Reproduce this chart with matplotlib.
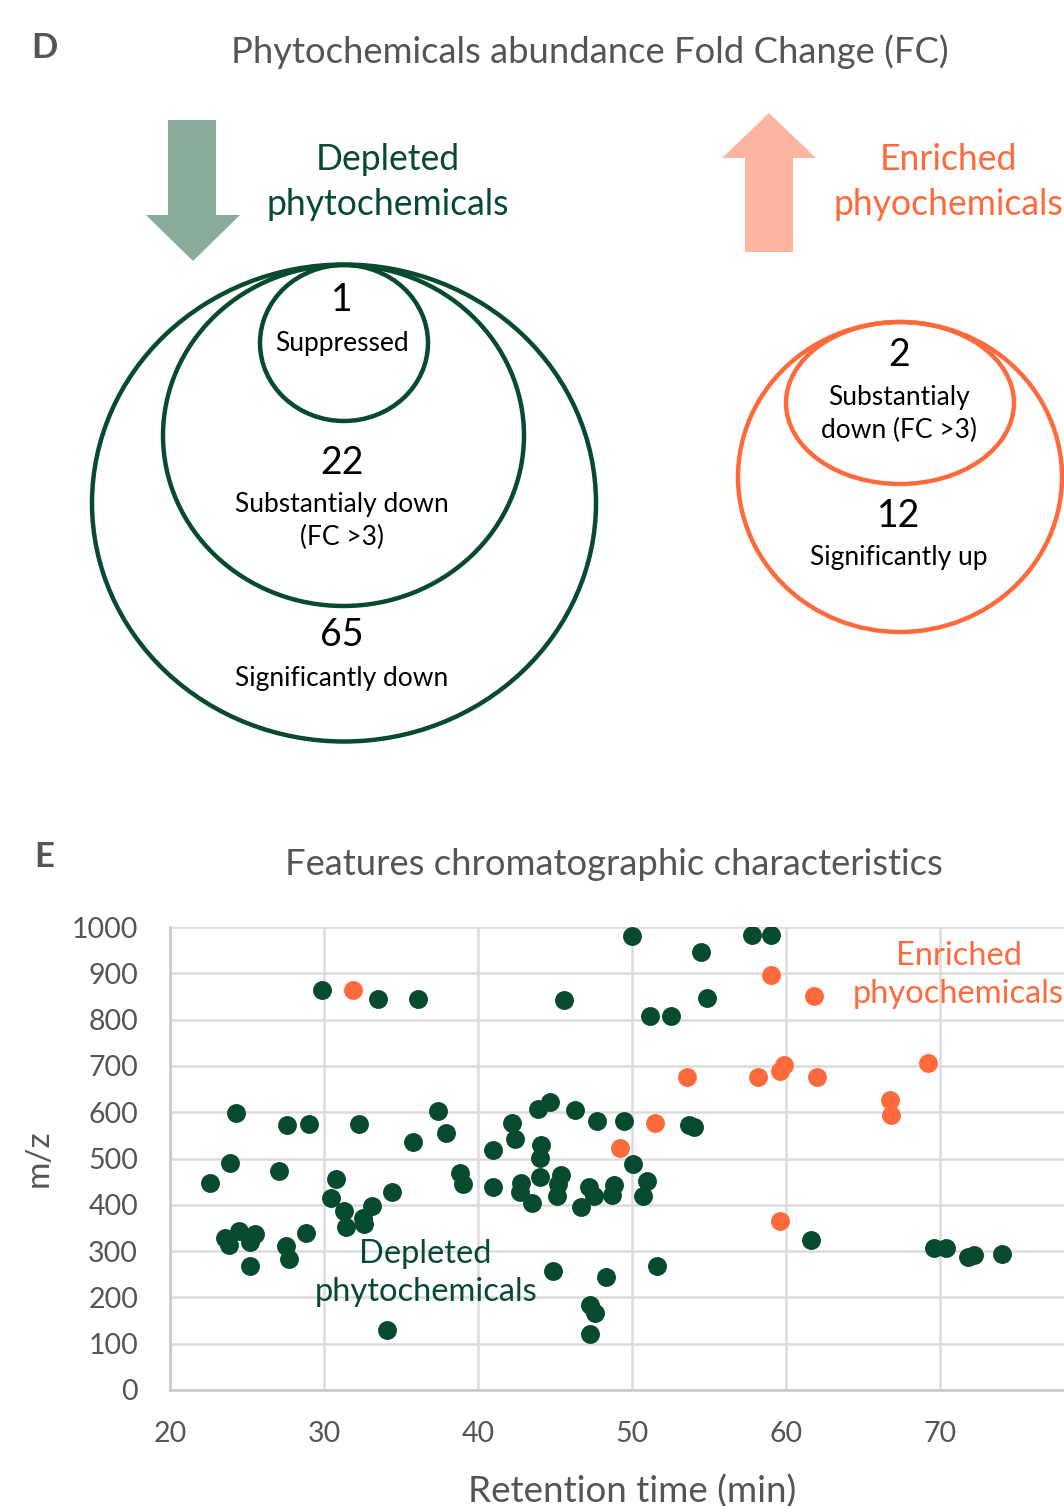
import matplotlib
matplotlib.use("Agg")
import matplotlib.pyplot as plt
from matplotlib.patches import Ellipse, Polygon

# ---------------- data ----------------
depleted_rt = [29.9, 33.5, 36.1, 24.3, 27.6, 29.0, 32.3, 37.4, 37.9, 35.8,
               23.9, 22.6, 27.1, 30.8, 38.8, 39.05, 30.45, 34.4, 31.3, 33.1,
               32.55, 31.4, 32.6, 23.6, 24.5, 25.5, 23.8, 25.2, 28.8, 27.5,
               27.7, 25.2, 34.1, 50.0, 57.8, 59.0, 54.5, 45.6, 54.9, 51.2,
               52.5, 44.7, 43.9, 46.3, 47.7, 49.5, 53.7, 54.0, 42.2, 42.4,
               41.0, 44.1, 44.0, 50.05, 51.0, 50.7, 41.0, 42.8, 42.7, 44.0,
               43.5, 45.4, 45.2, 45.15, 47.2, 47.5, 46.7, 48.8, 48.7, 44.9,
               48.3, 51.6, 47.3, 47.6, 47.3, 61.6, 69.6, 70.4, 71.8, 72.2,
               74.05]
depleted_mz = [864, 844, 844, 598, 572, 575, 575, 603, 556, 535,
               491, 448, 472, 455, 469, 446, 415, 427, 387, 398,
               372, 353, 358, 328, 343, 338, 313, 320, 340, 312,
               284, 268, 130, 981, 983, 983, 945, 842, 846, 808,
               808, 623, 607, 605, 582, 582, 572, 568, 577, 543,
               518, 529, 502, 488, 451, 420, 439, 448, 428, 461,
               403, 464, 446, 418, 438, 420, 395, 443, 421, 256,
               243, 268, 184, 167, 121, 325, 307, 306, 288, 292,
               293]
enriched_rt = [31.9, 59.0, 53.6, 58.2, 59.6, 59.9, 51.5, 49.2, 59.6, 61.8,
               62.0, 69.2, 66.75, 66.8]
enriched_mz = [864, 896, 675, 675, 688, 702, 577, 523, 366, 851,
               675, 707, 626, 594]

x_ticks = [20, 30, 40, 50, 60, 70]
x_grid = [20, 30, 40, 50, 60, 70, 80]
y_ticks = [0, 100, 200, 300, 400, 500, 600, 700, 800, 900, 1000]

venn_dep_counts = ["1", "22", "65"]
venn_dep_labels = ["Suppressed", "Substantialy down\n(FC >3)", "Significantly down"]
venn_enr_counts = ["2", "12"]
venn_enr_labels = ["Substantialy\ndown (FC >3)", "Significantly up"]

# ---------------- style ----------------
GREEN = "#074a2e"
ORANGE = "#ff6a3d"
GRAY = "#555555"
FONT = ["Lato", "DejaVu Sans"]
plt.rcParams["font.family"] = FONT

W, H = 1064, 1506
fig = plt.figure(figsize=(W / 100, H / 100), dpi=100)

ov = fig.add_axes([0, 0, 1, 1])
ov.set_xlim(0, W)
ov.set_ylim(H, 0)
ov.axis("off")

# panel letters and titles
ov.text(44, 48, "D", fontsize=25, fontweight="bold", color=GRAY, ha="center", va="center")
ov.text(590, 52, "Phytochemicals abundance Fold Change (FC)", fontsize=26.2,
        color=GRAY, ha="center", va="center")
ov.text(44, 857, "E", fontsize=25, fontweight="bold", color=GRAY, ha="center", va="center")
ov.text(614, 864, "Features chromatographic characteristics", fontsize=26.2,
        color=GRAY, ha="center", va="center")

# arrows
down = Polygon([(168, 120), (216, 120), (216, 215), (240, 215), (193, 261),
                (146, 215), (168, 215)], closed=True, color="#8aab99", lw=0)
up = Polygon([(745, 252), (793, 252), (793, 158), (816, 158), (769, 113),
              (722, 158), (745, 158)], closed=True, color="#fdb5a0", lw=0)
ov.add_patch(down)
ov.add_patch(up)
ov.text(388, 182, "Depleted\nphytochemicals", fontsize=25.6, color=GREEN,
        ha="center", va="center", linespacing=1.45)
ov.text(948, 182, "Enriched\nphyochemicals", fontsize=25.6, color=ORANGE,
        ha="center", va="center", linespacing=1.45)

# nested circles
for (cx, cy, w, h) in [(344, 503, 504, 477), (343.5, 435.5, 361, 341), (344, 343, 168, 156)]:
    ov.add_patch(Ellipse((cx, cy), w, h, fill=False, ec=GREEN, lw=3.2))
for (cx, cy, w, h) in [(900, 477, 324, 310), (900, 403, 228, 162)]:
    ov.add_patch(Ellipse((cx, cy), w, h, fill=False, ec=ORANGE, lw=3.2))

num_y_dep = [300, 463, 635]
lab_y_dep = [343, 521, 678]
for c, l, ny, ly in zip(venn_dep_counts, venn_dep_labels, num_y_dep, lab_y_dep):
    ov.text(342, ny, c, fontsize=27, color="black", ha="center", va="center")
    ov.text(342, ly, l, fontsize=19, color="black", ha="center", va="center",
            linespacing=1.35)
num_y_enr = [355, 516]
lab_y_enr = [414, 557]
for c, l, ny, ly in zip(venn_enr_counts, venn_enr_labels, num_y_enr, lab_y_enr):
    ov.text(899, ny, c, fontsize=27, color="black", ha="center", va="center")
    ov.text(899, ly, l, fontsize=19, color="black", ha="center", va="center",
            linespacing=1.35)

# ---------------- scatter ----------------
ax_left, ax_right, ax_top, ax_bot = 170, 1094, 927, 1390
ax = fig.add_axes([ax_left / W, (H - ax_bot) / H, (ax_right - ax_left) / W,
                   (ax_bot - ax_top) / H])
ax.scatter(depleted_rt, depleted_mz, s=185, color=GREEN, zorder=3, lw=0)
ax.scatter(enriched_rt, enriched_mz, s=185, color=ORANGE, zorder=3, lw=0)
ax.set_xlim(20, 80)
ax.set_ylim(0, 1000)
ax.set_xticks(x_grid, minor=True)
ax.set_xticks(x_ticks)
ax.set_yticks(y_ticks)
ax.grid(True, which="both", color="#dcdcdc", lw=1.8, zorder=0)
for s in ["top", "right"]:
    ax.spines[s].set_visible(False)
for s in ["left", "bottom"]:
    ax.spines[s].set_color("#c8c8c8")
    ax.spines[s].set_linewidth(1.8)
ax.tick_params(which="both", length=0, labelsize=20.5, labelcolor=GRAY)
ax.tick_params(axis="y", pad=23)
ax.tick_params(axis="x", pad=22)
ax.set_xlabel("Retention time (min)", fontsize=26.5, color=GRAY, labelpad=20)
ax.set_ylabel("m/z", fontsize=24, color=GRAY, labelpad=13)
ax.text(36.6, 253, "Depleted\nphytochemicals", fontsize=23.5, color=GREEN,
        ha="center", va="center", linespacing=1.35, zorder=4)
ax.text(71.2, 896, "Enriched\nphyochemicals", fontsize=23.5, color=ORANGE,
        ha="center", va="center", linespacing=1.35, zorder=4)

fig.savefig("out.png", dpi=100)
